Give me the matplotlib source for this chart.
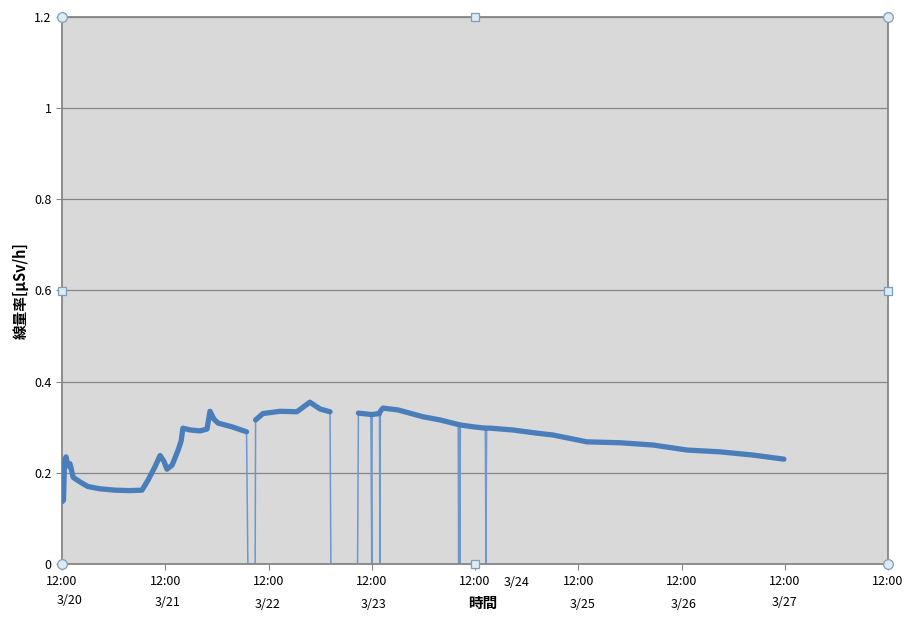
import numpy as np
import pandas as pd
import matplotlib
matplotlib.use("Agg")
import matplotlib.pyplot as plt
import matplotlib.dates as mdates

plt.rcParams['font.family'] = ['Noto Sans CJK JP', 'DejaVu Sans']

# hours after 2011-03-20 12:00, dose rate [uSv/h]
hours = [0.07, 0.35, 0.58, 0.93, 1.4, 1.86, 2.6, 4.2, 6.0, 8.8, 12.3, 15.8, 18.6,
         20.0, 21.6, 22.8, 23.7, 24.4, 25.6, 27.0, 27.7, 28.1, 29.8, 32.1, 33.7,
         34.4, 35.3, 36.3, 39.5, 42.9, 43.2, 44.9, 45.0, 46.7, 50.7, 54.6, 57.6,
         60.0, 62.3, 62.5, 68.7, 68.9, 71.8, 72.0, 72.1, 73.8, 73.9, 74.0, 74.6,
         78.1, 83.9, 87.9, 92.1, 92.2, 92.35, 92.5, 92.6, 95.6, 98.4, 98.55,
         98.7, 99.5, 104.8, 110.4, 114.1, 122.0, 129.7, 137.4, 145.3, 153.0,
         160.6, 167.8]
dose = [0.137, 0.14, 0.225, 0.235, 0.215, 0.22, 0.19, 0.18, 0.17, 0.165, 0.162,
        0.161, 0.162, 0.184, 0.213, 0.238, 0.225, 0.208, 0.217, 0.25, 0.27,
        0.298, 0.294, 0.292, 0.296, 0.335, 0.318, 0.309, 0.301, 0.29, 0.0, 0.0,
        0.316, 0.33, 0.335, 0.334, 0.355, 0.34, 0.334, 0.0, 0.0, 0.331, 0.328,
        0.0, 0.328, 0.33, 0.0, 0.335, 0.342, 0.338, 0.323, 0.316, 0.306, 0.0,
        0.305, 0.0, 0.305, 0.301, 0.298, 0.0, 0.298, 0.298, 0.294, 0.287, 0.283,
        0.268, 0.266, 0.261, 0.25, 0.246, 0.239, 0.23]

date_labels = ['3/20', '3/21', '3/22', '3/23', '3/24', '3/25', '3/26', '3/27']
date_pos = [(70, 600), (168, 602), (268, 605), (374, 605), (517, 583),
            (583, 605), (684, 605), (785, 603)]

start = pd.Timestamp('2011-03-20 12:00')
t = start + pd.to_timedelta(hours, unit='h')
y = np.array(dose)
y_band = np.where(y > 0, y, np.nan)

fig = plt.figure(figsize=(9.08, 6.17), dpi=100)
ax = fig.add_axes([62 / 908, 1 - 564 / 617, 826 / 908, 547 / 617])
ax.set_facecolor('#D9D9D9')

line_col = '#4A7EBB'
# thin line carries the drop-outs, thick one mimics the noisy band
ax.plot(t, y, color='#6E98CC', lw=1.1, zorder=2)
ax.plot(t, y_band, color=line_col, lw=3.8, solid_capstyle='round',
        solid_joinstyle='round', zorder=4)

ax.set_ylim(0, 1.2)
ax.set_yticks(np.arange(0, 1.21, 0.2))
ax.set_yticklabels(['0', '0.2', '0.4', '0.6', '0.8', '1', '1.2'])
ax.yaxis.grid(True, color='#868686', lw=0.9)
ax.set_axisbelow(True)

ax.set_xlim(start, start + pd.Timedelta(days=8))
ax.set_xticks(pd.date_range(start, periods=9, freq='D'))
ax.xaxis.set_major_formatter(mdates.DateFormatter('%H:%M'))

for s in ax.spines.values():
    s.set_color('#868686')
    s.set_linewidth(1.3)
    s.set_zorder(3)
ax.tick_params(axis='both', colors='#868686', labelcolor='black',
               labelsize=9, length=4)
ax.tick_params(axis='x', pad=4)

ax.set_ylabel('線量率[μSv/h]', fontsize=10.5, fontweight='bold', labelpad=4)

fig.text(483 / 908, 1 - 603 / 617, '時間', fontsize=10.5, fontweight='bold',
         ha='center', va='center')
for lab, (px, py) in zip(date_labels, date_pos):
    fig.text(px / 908, 1 - py / 617, lab, fontsize=9, ha='center', va='center')

# selection handles around the plot area
L, R, B, T = 62 / 908, 888 / 908, 1 - 564 / 617, 1 - 17 / 617
M_x, M_y = (L + R) / 2, (B + T) / 2
for (hx, hy) in [(L, B), (L, T), (R, B), (R, T)]:
    fig.lines.append(plt.Line2D([hx], [hy], marker='o', ms=7, mfc='#DCEBF5',
                                mec='#7F9DB9', mew=0.9,
                                transform=fig.transFigure, zorder=10))
for (hx, hy) in [(M_x, B), (M_x, T), (L, M_y), (R, M_y)]:
    fig.lines.append(plt.Line2D([hx], [hy], marker='s', ms=6, mfc='#DCEBF5',
                                mec='#7F9DB9', mew=0.9,
                                transform=fig.transFigure, zorder=10))

fig.savefig('out.png', dpi=100)
